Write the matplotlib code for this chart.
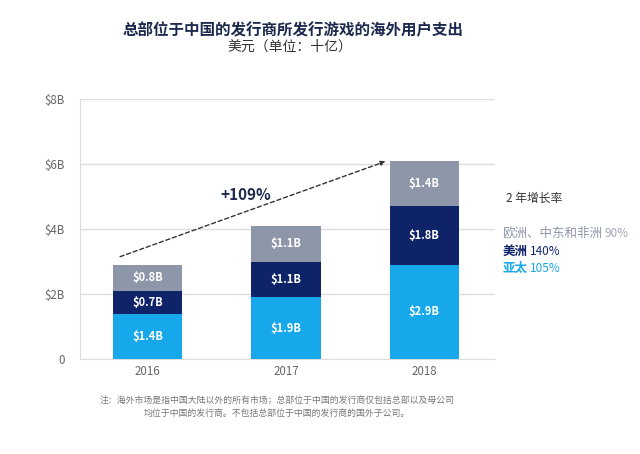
import matplotlib
matplotlib.use("Agg")
import matplotlib.pyplot as plt
import numpy as np

plt.rcParams['font.family'] = ['Noto Sans CJK SC', 'DejaVu Sans']

years = ["2016", "2017", "2018"]
apac = [1.4, 1.9, 2.9]
americas = [0.7, 1.1, 1.8]
emea = [0.8, 1.1, 1.4]
series_names = ["亚太", "美洲", "欧洲、中东和非洲"]
growth = ["105%", "140%", "90%"]
ytick_vals = [0, 2, 4, 6, 8]
ytick_labels = ["0", "$2B", "$4B", "$6B", "$8B"]
growth_total = "+109%"
arrow_start = (-0.2, 3.15)
arrow_end = (1.72, 6.08)

c_apac = "#16a8ea"
c_amer = "#0f2468"
c_emea = "#8e96aa"
navy = "#1b2a4e"

fig = plt.figure(figsize=(6.4, 4.54), dpi=100)
ax = fig.add_axes([0.125, 0.209, 0.648, 0.573])

x = np.arange(len(years))
w = 0.5
ax.bar(x, apac, w, color=c_apac, zorder=3)
ax.bar(x, americas, w, bottom=apac, color=c_amer, zorder=3)
bottom3 = [a + b for a, b in zip(apac, americas)]
ax.bar(x, emea, w, bottom=bottom3, color=c_emea, zorder=3)

for vals, bots in [(apac, [0]*3), (americas, apac), (emea, bottom3)]:
    for i, (v, b) in enumerate(zip(vals, bots)):
        ax.text(x[i], b + v / 2, f"${v:.1f}B", ha="center", va="center",
                color="white", fontsize=8, fontweight="bold", zorder=4)

ax.set_xlim(-0.49, 2.51)
ax.set_ylim(0, 8)
ax.set_yticks(ytick_vals)
ax.set_yticklabels(ytick_labels)
ax.set_xticks(x)
ax.set_xticklabels(years)
ax.tick_params(axis="both", length=0, labelsize=8.3, colors="#666666")
ax.tick_params(axis="y", pad=11)
ax.tick_params(axis="x", pad=4)
ax.yaxis.grid(True, color="#dddddd", linewidth=1, zorder=0)
for s in ["top", "right"]:
    ax.spines[s].set_visible(False)
for s in ["left", "bottom"]:
    ax.spines[s].set_color("#dddddd")

ax.annotate("", xy=arrow_end, xytext=arrow_start,
            arrowprops=dict(arrowstyle="-|>", linestyle=(0, (3, 2)), color="#333333",
                            lw=1, mutation_scale=7, shrinkA=0, shrinkB=0), zorder=5)
ax.text(0.71, 5.06, growth_total, ha="center", va="center", fontsize=11,
        fontweight="bold", color=navy)

fig.text(0.458, 0.934, "总部位于中国的发行商所发行游戏的海外用户支出", ha="center", va="center",
         fontsize=11.2, fontweight="bold", color=navy)
fig.text(0.453, 0.898, "美元（单位：十亿）", ha="center", va="center", fontsize=10, color="#333333")

fig.text(0.790, 0.564, "2 年增长率", ha="left", va="center", fontsize=8.5, color="#333333")

fig.canvas.draw()
renderer = fig.canvas.get_renderer()
legend_rows = [(series_names[2], growth[2], c_emea, "#a3a9b8", "normal", 0.486),
               (series_names[1], growth[1], c_amer, c_amer, "bold", 0.447),
               (series_names[0], growth[0], c_apac, c_apac, "bold", 0.409)]
for name, g, cname, cg, wt, yy in legend_rows:
    t = fig.text(0.785, yy, name, ha="left", va="center", fontsize=9, fontweight=wt, color=cname)
    bb = t.get_window_extent(renderer)
    x1 = bb.x1 / fig.bbox.width + 0.004
    fig.text(x1, yy, g, ha="left", va="center", fontsize=8.5, color=cg)

fig.text(0.433, 0.119, "注：海外市场是指中国大陆以外的所有市场；总部位于中国的发行商仅包括总部以及母公司",
         ha="center", va="center", fontsize=6.4, color="#777777")
fig.text(0.433, 0.090, "均位于中国的发行商。不包括总部位于中国的发行商的国外子公司。",
         ha="center", va="center", fontsize=6.4, color="#777777")

fig.savefig("out.png", dpi=100)
